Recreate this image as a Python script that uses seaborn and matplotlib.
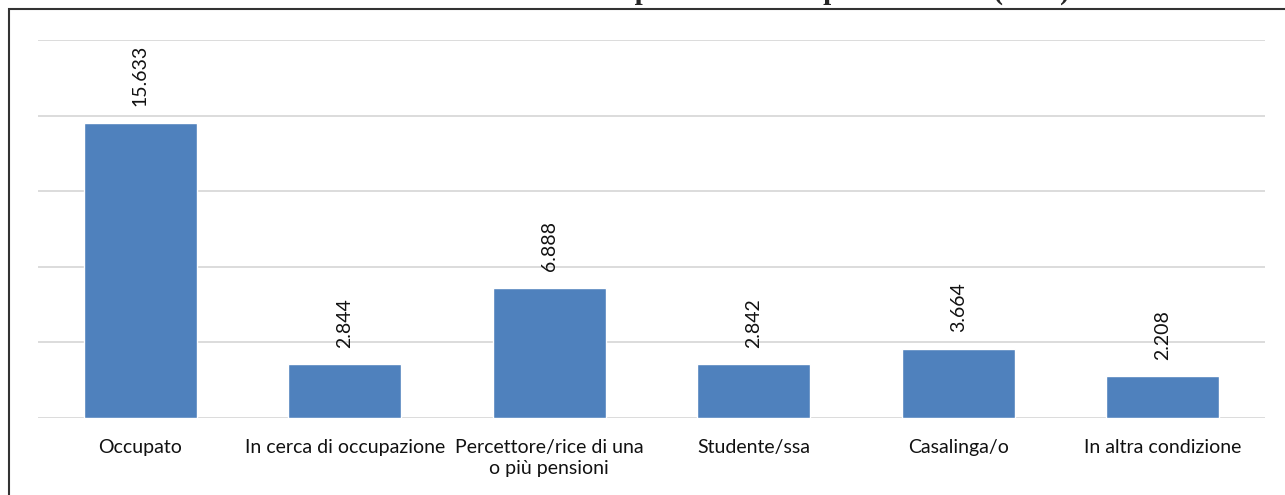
import matplotlib
matplotlib.use("Agg")
import matplotlib.pyplot as plt
import seaborn as sns
import pandas as pd
from matplotlib.patches import Rectangle

categories = [
    "Occupato",
    "In cerca di occupazione",
    "Percettore/rice di una\no più pensioni",
    "Studente/ssa",
    "Casalinga/o",
    "In altra condizione",
]
values = [15633, 2844, 6888, 2842, 3664, 2208]
title = "Residenti di 15 anni e oltre per condizione professionale (2011)"

df = pd.DataFrame({"condizione": categories, "residenti": values})

sns.set_theme(style="white")
plt.rcParams["font.family"] = ["Lato", "DejaVu Sans"]

fig = plt.figure(figsize=(12.85, 4.95), dpi=100)
ax = fig.add_axes([38 / 1285, 77 / 495, 1227 / 1285, 378 / 495])

sns.barplot(data=df, x="condizione", y="residenti", color="#4F81BD",
            width=0.553, saturation=1, ax=ax, zorder=3)

ax.set_ylim(0, 20000)
ax.set_xlim(-0.5, len(categories) - 0.5)
ax.set_yticks(range(0, 20001, 4000))
ax.yaxis.grid(True, color="#d9d9d9", linewidth=1.3, zorder=0)
ax.tick_params(axis="y", left=False, labelleft=False)
ax.tick_params(axis="x", bottom=False, labelsize=14, pad=9, colors="#111111")
for lbl in ax.get_xticklabels():
    lbl.set_linespacing(1.3)
for s in ax.spines.values():
    s.set_visible(False)
ax.set_xlabel("")
ax.set_ylabel("")

labels = [f"{v:,}".replace(",", ".") for v in values]
ax.bar_label(ax.containers[0], labels=labels, rotation=90, padding=12,
             fontsize=14, color="#111111")

# chart frame, open on the right and bottom
fig.patches.append(Rectangle((9 / 1285, -0.1), 1.2, (495 - 9) / 495 + 0.1,
                             transform=fig.transFigure, fill=False,
                             edgecolor="#333333", linewidth=1.5, zorder=10))

# title sits above the frame, mostly outside the canvas
fig.text(1070 / 1285, 1.0 + 1.5 / 495, title, ha="right", va="baseline",
         fontsize=21, fontweight="bold",
         family=["Liberation Serif", "DejaVu Serif"])

fig.savefig("out.png", dpi=100)
